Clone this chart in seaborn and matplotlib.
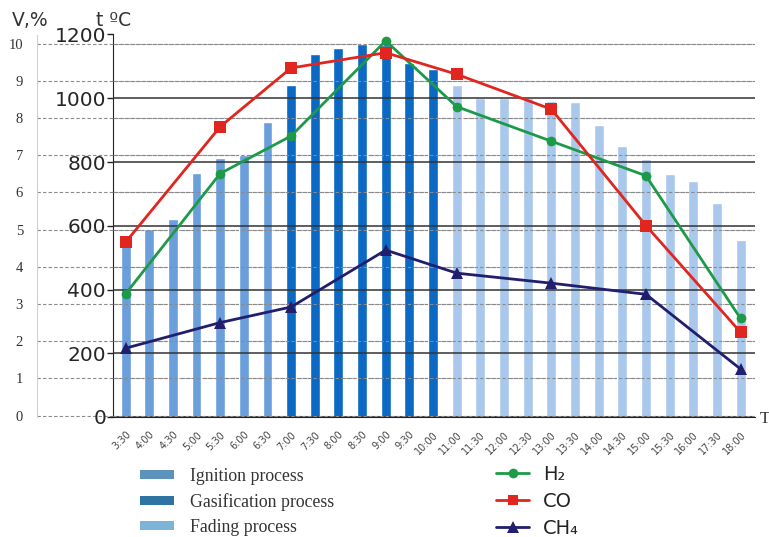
import numpy as np
import pandas as pd
import matplotlib
matplotlib.use('Agg')
import matplotlib.pyplot as plt
from matplotlib.patches import Patch
from matplotlib.lines import Line2D
import seaborn as sns

# time of day (10:30, 16:30, 17:00 are not in the source chart)
times = ['3:30', '4:00', '4:30', '5:00', '5:30', '6:00', '6:30',
         '7:00', '7:30', '8:00', '8:30', '9:00', '9:30', '10:00',
         '11:00', '11:30', '12:00', '12:30', '13:00', '13:30', '14:00',
         '14:30', '15:00', '15:30', '16:00', '17:30', '18:00']
# temperature, deg C
temps = [571, 589, 620, 764, 812, 822, 925,
         1042, 1138, 1157, 1170, 1168, 1111, 1091,
         1042, 1002, 1002, 1000, 992, 987, 916,
         850, 809, 761, 740, 672, 555]
phases = (['Ignition process'] * 7 + ['Gasification process'] * 7
          + ['Fading process'] * 13)

# gas composition, vol %
gas_times = ['3:30', '5:30', '7:00', '9:00', '11:00', '13:00', '15:00', '18:00']
h2 = [3.27, 6.51, 7.52, 10.08, 8.31, 7.38, 6.45, 2.61]
co = [4.66, 7.77, 9.35, 9.76, 9.18, 8.24, 5.11, 2.24]
ch4 = [1.81, 2.50, 2.92, 4.45, 3.83, 3.56, 3.26, 1.25]

bar_colors = {'Ignition process': '#6a9fdc',
              'Gasification process': '#0b69c3',
              'Fading process': '#a9c8ec'}
legend_colors = ['#5c93bd', '#2f73a3', '#7db3d6']

sns.set_style('white')
plt.rcParams['font.family'] = ['DejaVu Sans']

fig = plt.figure(figsize=(7.69, 5.37), dpi=100)
bottom, height = 1 - 417 / 537, (417 - 34.5) / 537

# outer V,% axis with dashed grid
ax_v = fig.add_axes([37 / 769, bottom, (755 - 37) / 769, height])
ax_v.set_ylim(-0.04, 10.25)
ax_v.set_yticks(range(0, 11))
ax_v.set_yticklabels([str(i) for i in range(11)], family='Liberation Serif',
                     fontsize=10.5, color='#333333')
ax_v.tick_params(axis='y', length=0, pad=10)
ax_v.set_xticks([])
for s in ['top', 'right', 'bottom']:
    ax_v.spines[s].set_visible(False)
ax_v.spines['left'].set_color('#d0d0d0')
ax_v.grid(axis='y', color='#8a8a8a', linestyle=(0, (3, 2)), linewidth=0.8)

# temperature axis with bars
df = pd.DataFrame({'time': times, 'temp': temps, 'phase': phases})
ax_t = fig.add_axes([113 / 769, bottom, (755 - 113) / 769, height])
ax_t.patch.set_alpha(0)
sns.barplot(data=df, x='time', y='temp', hue='phase', palette=bar_colors,
            dodge=False, width=0.42, legend=False, ax=ax_t, saturation=1)
ax_t.set_ylim(0, 1200)
ax_t.set_xlim(-0.53, len(times) - 1 + 0.61)
ax_t.set_yticks([0, 200, 400, 600, 800, 1000, 1200])
ax_t.tick_params(axis='y', labelsize=14.5, length=4, width=1, color='#222222',
                 pad=1, left=True)
ax_t.set_xticks(range(len(times)))
ax_t.set_xticklabels(times, rotation=45, fontsize=7, color='#444444',
                     ha='right', rotation_mode='anchor')
ax_t.tick_params(axis='x', length=0, pad=9)
ax_t.set_xticks(np.arange(len(times) + 1) - 0.5, minor=True)
ax_t.tick_params(axis='x', which='minor', length=4, width=0.7, color='#777777')
ax_t.set_xlabel('')
ax_t.set_ylabel('')
ax_t.spines['top'].set_visible(False)
ax_t.spines['right'].set_visible(False)
ax_t.spines['left'].set_color('#222222')
ax_t.spines['bottom'].set_color('#222222')
ax_t.grid(axis='y', color='#333333', linestyle='-', linewidth=1.1)
ax_t.set_axisbelow(False)
ax_t.grid(axis='x', visible=False)

# gas lines on V,% scale
ax_l = ax_t.twinx()
ax_l.set_ylim(-0.04, 10.25)
ax_l.set_yticks(range(0, 11))
ax_l.grid(axis='y', color='#8a8a8a', linestyle=(0, (3, 2)), linewidth=0.8)
ax_l.tick_params(axis='y', right=False, labelright=False)
for s in ax_l.spines.values():
    s.set_visible(False)
gx = [times.index(t) for t in gas_times]
sns.lineplot(x=gx, y=h2, color='#1d9a48', marker='o', markersize=7,
             markeredgewidth=0, linewidth=2, ax=ax_l)
sns.lineplot(x=gx, y=co, color='#e0261f', marker='s', markersize=8,
             markeredgewidth=0, linewidth=2, ax=ax_l)
sns.lineplot(x=gx, y=ch4, color='#221e6e', marker='^', markersize=9,
             markeredgewidth=0, linewidth=2, ax=ax_l)

# axis titles
fig.text(12 / 769, 1 - 20 / 537, 'V,%', fontsize=13.5, va='center', ha='left',
         color='#333333')
fig.text(96 / 769, 1 - 20 / 537, 't ºC', fontsize=13.5, va='center', ha='left',
         color='#333333')
fig.text(760 / 769, 1 - 419 / 537, 'T', family='Liberation Serif', fontsize=12,
         va='center', ha='left', color='#333333')

# legends
bar_handles = [Patch(facecolor=c, edgecolor='none') for c in legend_colors]
leg1 = fig.legend(bar_handles, list(bar_colors.keys()), loc='upper left',
                  bbox_to_anchor=(140 / 769, 1 - 468 / 537), frameon=False,
                  borderpad=0, borderaxespad=0,
                  handlelength=1.9, handleheight=0.4, handletextpad=0.9,
                  labelspacing=0.45,
                  prop={'family': 'Liberation Serif', 'size': 12.8})
for t in leg1.get_texts():
    t.set_color('#333333')
line_handles = [Line2D([], [], color='#1d9a48', marker='o', markersize=7, lw=2,
                       markeredgewidth=0),
                Line2D([], [], color='#e0261f', marker='s', markersize=7, lw=2,
                       markeredgewidth=0),
                Line2D([], [], color='#221e6e', marker='^', markersize=8, lw=2,
                       markeredgewidth=0)]
leg2 = fig.legend(line_handles, ['H₂', 'CO', 'CH₄'], loc='upper left',
                  bbox_to_anchor=(496 / 769, 1 - 465 / 537), frameon=False,
                  borderpad=0, borderaxespad=0,
                  handlelength=1.7, handletextpad=0.7, labelspacing=0.4,
                  prop={'size': 14})
for t in leg2.get_texts():
    t.set_color('#222222')

fig.savefig('out.png', dpi=100)
